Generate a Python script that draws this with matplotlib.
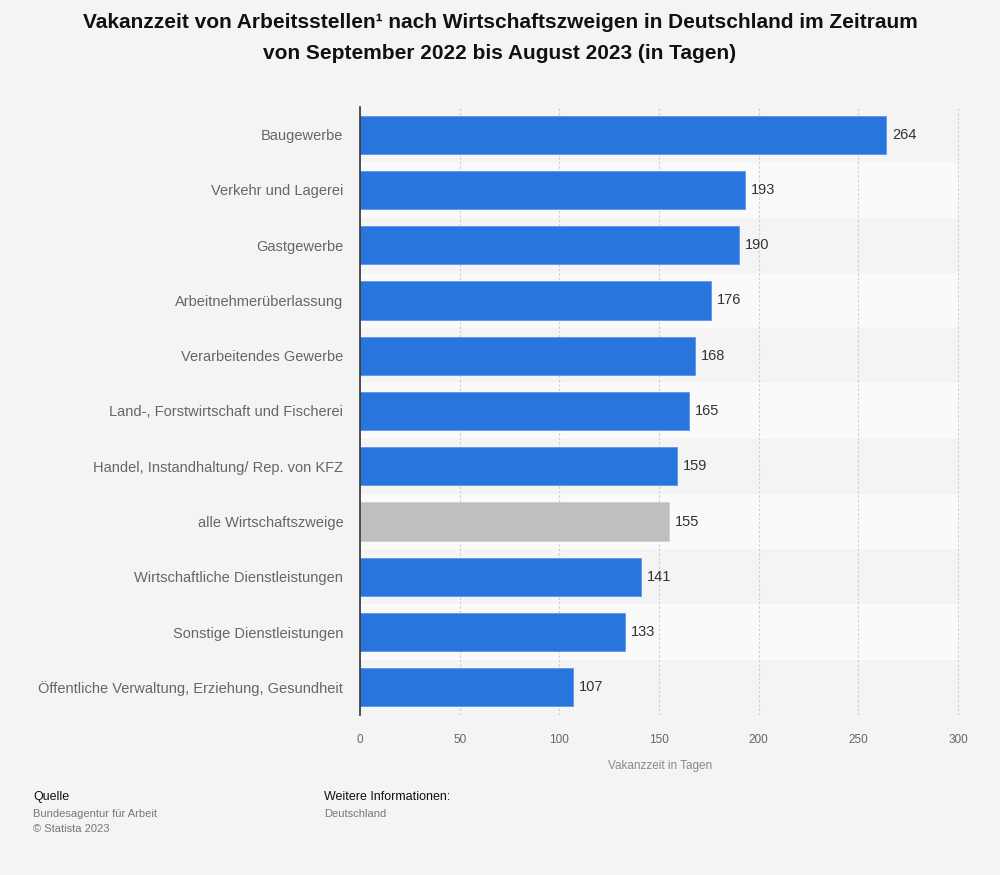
import matplotlib
matplotlib.use("Agg")
import matplotlib.pyplot as plt

plt.rcParams['font.family'] = ['Liberation Sans', 'DejaVu Sans']

categories = [
    "Baugewerbe",
    "Verkehr und Lagerei",
    "Gastgewerbe",
    "Arbeitnehmerüberlassung",
    "Verarbeitendes Gewerbe",
    "Land-, Forstwirtschaft und Fischerei",
    "Handel, Instandhaltung/ Rep. von KFZ",
    "alle Wirtschaftszweige",
    "Wirtschaftliche Dienstleistungen",
    "Sonstige Dienstleistungen",
    "Öffentliche Verwaltung, Erziehung, Gesundheit",
]
values = [264, 193, 190, 176, 168, 165, 159, 155, 141, 133, 107]
highlight = "alle Wirtschaftszweige"
xticks = [0, 50, 100, 150, 200, 250, 300]

bg = "#f4f4f4"
fig = plt.figure(figsize=(10, 8.75), dpi=100, facecolor=bg)
ax = fig.add_axes([0.36, 0.1829, 0.60, 0.6948])
ax.set_facecolor(bg)

n = len(categories)
ypos = list(range(n))
for i in ypos:
    if i % 2 == 1:
        ax.axhspan(i - 0.5, i + 0.5, color="#fafafa", zorder=0, lw=0)

colors = ["#bfbfbf" if c == highlight else "#2876dd" for c in categories]
bars = ax.barh(ypos, values, height=0.69, color=colors, zorder=3,
               edgecolor=["#d0d0d0" if c == highlight else "#5a98e8" for c in categories], linewidth=0.6)
for y, v in zip(ypos, values):
    ax.text(v + 3, y, f"{v}", va="center", ha="left", fontsize=10.5, color="#333333", zorder=4)

ax.set_ylim(n - 0.5, -0.5)
ax.set_xlim(0, 301)
ax.set_yticks(ypos)
ax.set_yticklabels(categories, fontsize=10.5, color="#666666")
ax.set_xticks(xticks)
ax.set_xticklabels([str(t) for t in xticks], fontsize=8.5, color="#666666")
ax.tick_params(axis="y", length=0, pad=12)
ax.tick_params(axis="x", length=0, pad=14)
ax.grid(axis="x", color="#cccccc", linestyle=(0, (2, 2)), linewidth=0.8, zorder=1)
for s in ["top", "right", "bottom"]:
    ax.spines[s].set_visible(False)
ax.spines["left"].set_color("#333333")
ax.spines["left"].set_linewidth(1.2)
ax.spines["left"].set_zorder(5)
ax.set_xlabel("Vakanzzeit in Tagen", fontsize=8.5, color="#888888", labelpad=10)

fig.text(0.5, 1 - 13/875, "Vakanzzeit von Arbeitsstellen¹ nach Wirtschaftszweigen in Deutschland im Zeitraum\nvon September 2022 bis August 2023 (in Tagen)",
         ha="center", va="top", fontsize=15, fontweight="bold", color="#111111", linespacing=1.8)

fig.text(0.033, 1 - 797/875, "Quelle", fontsize=9, color="#111111", va="center")
fig.text(0.033, 1 - 814/875, "Bundesagentur für Arbeit", fontsize=8, color="#777777", va="center")
fig.text(0.033, 1 - 829/875, "© Statista 2023", fontsize=8, color="#777777", va="center")
fig.text(0.324, 1 - 797/875, "Weitere Informationen:", fontsize=9, color="#111111", va="center")
fig.text(0.324, 1 - 814/875, "Deutschland", fontsize=8, color="#777777", va="center")

fig.savefig("out.png", dpi=100, facecolor=bg)
